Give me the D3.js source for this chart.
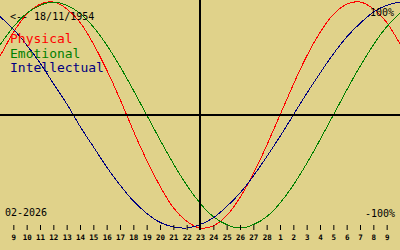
<!DOCTYPE html>
<meta charset="utf-8">
<head>
  <meta charset="utf-8">
  <script src="https://d3js.org/d3.v7.min.js"></script>
  <style>
    body { margin: 0; background: #e0d28a; }
    svg { display: block; font-family: "DejaVu Sans Mono", monospace; }
  </style>
</head>
<body>
  <svg width="400" height="250"></svg>
  <script>
    // day offsets from 23 Feb 2026 (today line), Feb 8 .. Mar 10
    var days = d3.range(-15, 16);
    var physical = [0.52, 0.73, 0.89, 0.98, 1.00, 0.94, 0.82, 0.63, 0.40, 0.14, -0.14, -0.40, -0.63, -0.82, -0.94, -1.00,
      -0.98, -0.89, -0.73, -0.52, -0.27, 0.00, 0.27, 0.52, 0.73, 0.89, 0.98, 1.00, 0.94, 0.82, 0.63];
    var emotional = [0.62, 0.78, 0.90, 0.97, 1.00, 0.97, 0.90, 0.78, 0.62, 0.43, 0.22, 0.00, -0.22, -0.43, -0.62, -0.78,
      -0.90, -0.97, -1.00, -0.97, -0.90, -0.78, -0.62, -0.43, -0.22, 0.00, 0.22, 0.43, 0.62, 0.78, 0.90];
    var intellectual = [0.87, 0.76, 0.62, 0.46, 0.28, 0.10, -0.10, -0.28, -0.46, -0.62, -0.76, -0.87, -0.95, -0.99, -1.00, -0.97,
      -0.91, -0.81, -0.69, -0.54, -0.37, -0.19, 0.00, 0.19, 0.37, 0.54, 0.69, 0.81, 0.91, 0.97, 1.00];
    var tickDays = d3.range(-14, 15);
    var tickLabels = ["9","10","11","12","13","14","15","16","17","18","19","20","21","22","23","24","25","26","27","28",
      "1","2","3","4","5","6","7","8","9"];

    var svg = d3.select("svg");
    var x = d3.scaleLinear().domain([-15, 15]).range([0, 400]);
    var y = d3.scaleLinear().domain([-1, 1]).range([228, 2]);

    var series = [
      {name: "Physical", values: physical, color: "#ff0000"},
      {name: "Emotional", values: emotional, color: "#008000"},
      {name: "Intellectual", values: intellectual, color: "#000080"}
    ];

    var line = d3.line()
      .x(function(d, i) { return x(days[i]) })
      .y(function(d) { return y(d) })
      .curve(d3.curveNatural);

    svg.selectAll(".curve")
      .data(series)
      .enter()
      .append("path")
        .attr("class", "curve")
        .attr("d", function(d) { return line(d.values) })
        .attr("stroke", function(d) { return d.color })
        .attr("stroke-width", 1)
        .attr("shape-rendering", "crispEdges")
        .attr("fill", "none");

    // centre lines
    svg.append("line")
      .attr("x1", 0).attr("x2", 400)
      .attr("y1", y(0)).attr("y2", y(0))
      .attr("stroke", "#000").attr("stroke-width", 2);
    svg.append("line")
      .attr("x1", x(0)).attr("x2", x(0))
      .attr("y1", 0).attr("y2", 230)
      .attr("stroke", "#000").attr("stroke-width", 2);

    // day ticks
    var axis = svg.append("g")
      .attr("transform", "translate(0,225)")
      .call(d3.axisBottom(x)
        .tickValues(tickDays)
        .tickFormat(function(d, i) { return tickLabels[i] })
        .tickSize(5)
        .tickPadding(5));
    axis.select(".domain").remove();
    axis.selectAll("line").attr("stroke", "#000");
    axis.selectAll("text")
      .attr("fill", "#000")
      .style("font-family", "DejaVu Sans Mono")
      .style("font-weight", "bold")
      .style("font-size", "7.5px");

    // legend
    svg.selectAll(".legend")
      .data(series)
      .enter()
      .append("text")
        .attr("class", "legend")
        .attr("x", 10)
        .attr("y", function(d, i) { return 43 + i * 14.7 })
        .attr("fill", function(d) { return d.color })
        .style("font-size", "13px")
        .text(function(d) { return d.name });

    svg.append("text").attr("x", 10).attr("y", 20).style("font-size", "10px").text("<-- 18/11/1954");
    svg.append("text").attr("x", 394).attr("y", 16).attr("text-anchor", "end").style("font-size", "10px").text("100%");
    svg.append("text").attr("x", 395).attr("y", 217).attr("text-anchor", "end").style("font-size", "10px").text("-100%");
    svg.append("text").attr("x", 5).attr("y", 216).style("font-size", "10px").text("02-2026");
  </script>
</body>
</html>
